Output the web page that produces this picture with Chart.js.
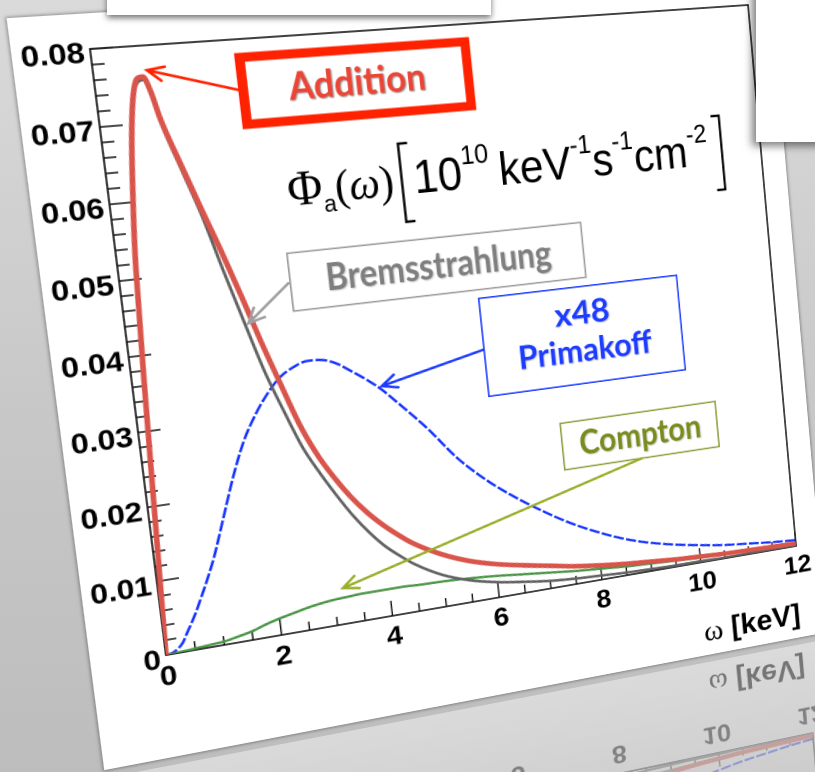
<!DOCTYPE html>
<html>
<head>
<meta charset="utf-8">
<script src="https://cdn.jsdelivr.net/npm/chart.js@4.4.1/dist/chart.umd.min.js"></script>
<style>
  html, body { margin: 0; padding: 0; }
  body {
    width: 815px; height: 772px; overflow: hidden; position: relative;
    background: linear-gradient(to bottom, #dadada 0%, #c7c7c7 55%, #bdbdbd 100%);
  }
  #panel {
    position: absolute; left: 0; top: 0; width: 733px; height: 738px;
    background: #fff; transform-origin: 0 0;
    box-shadow: 0 0 3px 1px rgba(0, 0, 0, 0.35);
    -webkit-box-reflect: below 8px linear-gradient(to bottom, rgba(255,255,255,0) 55%, rgba(255,255,255,0.42));
  }
  #panel canvas { display: block; }
  .slip { position: absolute; background: #fff; z-index: 2; }
</style>
</head>
<body>
<div id="panel"><canvas id="fluxChart" width="733" height="738"></canvas></div>
<div class="slip" style="left:107px;top:-12px;width:384px;height:27px;box-shadow:0 3px 6px rgba(0,0,0,0.55);"></div>
<div class="slip" style="left:756px;top:-12px;width:80px;height:154px;box-shadow:-4px 4px 8px rgba(0,0,0,0.5);"></div>
<script>
// photon energy grid [keV]
const energyKeV = [0, 0.1, 0.2, 0.3, 0.4, 0.5, 0.6, 0.7, 0.8, 0.9,
  1.0, 1.25, 1.5, 1.75, 2.0, 2.25, 2.5, 2.75, 3.0, 3.25,
  3.5, 3.75, 4.0, 4.25, 4.5, 5.0, 5.5, 6.0, 6.5, 7.0,
  7.5, 8.0, 8.5, 9.0, 9.5, 10.0, 10.5, 11.0, 11.5, 12.0];

// fluxes [10^10 keV^-1 s^-1 cm^-2]
const additionFlux = [0, 0.018, 0.036, 0.0515, 0.061, 0.0685, 0.0735, 0.0758, 0.0760, 0.0740,
  0.0705, 0.0643, 0.0583, 0.0525, 0.0463, 0.0398, 0.0338, 0.0280, 0.0236, 0.0202,
  0.0173, 0.0149, 0.0129, 0.0112, 0.0097, 0.0075, 0.0059, 0.0048, 0.0040, 0.0033,
  0.0026, 0.0021, 0.0017, 0.0014, 0.0011, 0.0009, 0.0007, 0.0006, 0.0005, 0.0004];

const bremsFlux = [0, 0.0175, 0.0352, 0.0508, 0.0605, 0.068, 0.0730, 0.0753, 0.0756, 0.0736,
  0.0700, 0.0636, 0.0573, 0.0498, 0.0427, 0.0358, 0.0302, 0.0250, 0.0212, 0.0178,
  0.0147, 0.0121, 0.0099, 0.0082, 0.0067, 0.0045, 0.0031, 0.0022, 0.0016, 0.0011,
  0.0008, 0.0006, 0.0004, 0.0003, 0.0002, 0.0002, 0.0001, 0.0001, 0.0001, 0.0001];

const comptonFlux = [0, 0.00002, 0.00005, 0.0001, 0.00014, 0.0002, 0.00025, 0.0003, 0.00035, 0.0004,
  0.00045, 0.0008, 0.0012, 0.0018, 0.0023, 0.0027, 0.0031, 0.0034, 0.0036, 0.0037,
  0.0038, 0.0038, 0.0038, 0.0038, 0.0037, 0.0036, 0.0034, 0.0031, 0.0027, 0.0023,
  0.0019, 0.0016, 0.0013, 0.0011, 0.0009, 0.0007, 0.0006, 0.0005, 0.0004, 0.0003];

const primakoffX48 = [0, 0.0001, 0.0005, 0.0012, 0.0025, 0.0038, 0.0052, 0.0068, 0.0084, 0.0101,
  0.0119, 0.0172, 0.0225, 0.0270, 0.0303, 0.0329, 0.0349, 0.0360, 0.0366, 0.0365,
  0.0358, 0.0345, 0.0331, 0.0315, 0.0295, 0.0253, 0.0205, 0.0168, 0.0138, 0.0112,
  0.0089, 0.0070, 0.0054, 0.0042, 0.0033, 0.0026, 0.0020, 0.0016, 0.0012, 0.0009];

const xRange = [0, 12];
const yRange = [0, 0.08];

// labelled boxes and their arrows, placed in data units
const notes = [
  { lines: ["Addition"], box: [2.36, 6.53, 0.0682, 0.0782], edge: "#ff2200", edgeWidth: 9,
    ink: "#ec4535", size: 38, fit: 130, rows: [0.5],
    arrow: [2.36, 0.0734, 0.88, 0.0768], arrowInk: "#ff2200" },
  { lines: ["Bremsstrahlung"], box: [2.85, 8.29, 0.0434, 0.0514], edge: "#9a9a9a", edgeWidth: 1.6,
    ink: "#7f7f7f", size: 38, fit: 222, rows: [0.5],
    arrow: [2.83, 0.0473, 2.07, 0.0426], arrowInk: "#a0a0a0" },
  { lines: ["x48", "Primakoff"], box: [6.19, 10.07, 0.0284, 0.0424], edge: "#1c3cff", edgeWidth: 1.6,
    ink: "#1c3cff", size: 34, fit: 139, rows: [0.28, 0.66],
    arrow: [6.19, 0.0351, 4.27, 0.0319], arrowInk: "#1c3cff" },
  { lines: ["Compton"], box: [7.48, 10.61, 0.0165, 0.0234], edge: "#8c9c38", edgeWidth: 1.6,
    ink: "#7a8c1e", size: 36, fit: 130, rows: [0.5],
    arrow: [9.02, 0.0166, 3.17, 0.0050], arrowInk: "#9aae2c" }
];

function points(values) {
  return energyKeV.map((x, i) => ({ x, y: values[i] }));
}

function drawArrow(ctx, x1, y1, x2, y2, color, width) {
  const ang = Math.atan2(y2 - y1, x2 - x1);
  const head = 16;
  ctx.save();
  ctx.strokeStyle = color;
  ctx.lineWidth = width;
  ctx.lineCap = "round";
  ctx.beginPath();
  ctx.moveTo(x1, y1);
  ctx.lineTo(x2, y2);
  ctx.moveTo(x2 - head * Math.cos(ang - 0.45), y2 - head * Math.sin(ang - 0.45));
  ctx.lineTo(x2, y2);
  ctx.lineTo(x2 - head * Math.cos(ang + 0.45), y2 - head * Math.sin(ang + 0.45));
  ctx.stroke();
  ctx.restore();
}

function fitText(ctx, text, cx, cy, maxW) {
  const w = ctx.measureText(text).width;
  const s = Math.min(1, maxW / w);
  ctx.save();
  ctx.translate(cx, cy);
  ctx.scale(s, 1);
  ctx.fillText(text, 0, 0);
  ctx.restore();
}

// Phi_a(omega)[10^10 keV^-1 s^-1 cm^-2] laid out piece by piece
function drawFormula(ctx, x0, y0, targetW) {
  const big = "48px 'Liberation Sans', Arial, sans-serif";
  const sup = "28px 'Liberation Sans', Arial, sans-serif";
  const parts = [
    { t: "\u03A6", f: "50px 'Liberation Serif', 'Times New Roman', serif", dy: 0 },
    { t: "a", f: "24px 'Liberation Sans', Arial, sans-serif", dy: 10 },
    { t: "(", f: "46px 'Liberation Serif', serif", dy: 0 },
    { t: "\u03C9", f: "italic 46px 'Liberation Serif', serif", dy: 0 },
    { t: ")", f: "46px 'Liberation Serif', serif", dy: 0 },
    { gap: 6 }, { bracket: "[" },
    { t: "10", f: big, dy: 0 }, { t: "10", f: sup, dy: -25 }, { gap: 10 },
    { t: "keV", f: big, dy: 0 }, { t: "-1", f: sup, dy: -25 },
    { t: "s", f: big, dy: 0 }, { t: "-1", f: sup, dy: -25 },
    { t: "cm", f: big, dy: 0 }, { t: "-2", f: sup, dy: -25 },
    { gap: 4 }, { bracket: "]" }
  ];
  let total = 0;
  parts.forEach((p) => {
    if (p.gap) { p.w = p.gap; }
    else if (p.bracket) { p.w = 16; }
    else { ctx.font = p.f; p.w = ctx.measureText(p.t).width; }
    total += p.w;
  });
  const s = targetW / total;
  ctx.save();
  ctx.translate(x0, y0);
  ctx.scale(s, 1);
  ctx.fillStyle = "#000";
  ctx.strokeStyle = "#000";
  ctx.textAlign = "left";
  ctx.textBaseline = "alphabetic";
  let x = 0;
  parts.forEach((p) => {
    if (p.bracket) {
      ctx.lineWidth = 2.6;
      ctx.beginPath();
      if (p.bracket === "[") {
        ctx.moveTo(x + 13, -52); ctx.lineTo(x + 3, -52); ctx.lineTo(x + 3, 28); ctx.lineTo(x + 13, 28);
      } else {
        ctx.moveTo(x + 3, -52); ctx.lineTo(x + 13, -52); ctx.lineTo(x + 13, 28); ctx.lineTo(x + 3, 28);
      }
      ctx.stroke();
    } else if (p.t) {
      ctx.font = p.f;
      ctx.fillText(p.t, x, p.dy);
    }
    x += p.w;
  });
  ctx.restore();
}

const frameAndTicks = {
  id: "frameAndTicks",
  beforeDatasetsDraw(chart) {
    const { ctx, chartArea: a, scales } = chart;
    const xs = scales.x, ys = scales.y;
    ctx.save();
    ctx.strokeStyle = "#111";
    ctx.lineWidth = 1.6;
    ctx.strokeRect(a.left, a.top, a.right - a.left, a.bottom - a.top);
    ctx.lineWidth = 1.4;
    ctx.beginPath();
    for (let i = 0; i <= 40; i++) {
      const v = i * 0.002;
      const y = ys.getPixelForValue(v);
      ctx.moveTo(a.left, y);
      ctx.lineTo(a.left + (i % 5 === 0 ? 20 : 11), y);
    }
    for (let i = 0; i <= 24; i++) {
      const v = i * 0.5;
      const x = xs.getPixelForValue(v);
      ctx.moveTo(x, a.bottom);
      ctx.lineTo(x, a.bottom - (i % 4 === 0 ? 16 : 9));
    }
    ctx.stroke();
    ctx.restore();
  },
  afterDatasetsDraw(chart) {
    const { ctx, chartArea: a, scales } = chart;
    const xs = scales.x, ys = scales.y;
    const px = (v) => xs.getPixelForValue(v);
    const py = (v) => ys.getPixelForValue(v);

    drawFormula(ctx, px(3.0), py(0.0576), 440);

    notes.forEach((n) => {
      const [x0, x1, y0, y1] = n.box;
      const L = px(x0), R = px(x1), T = py(y1), B = py(y0);
      ctx.save();
      ctx.strokeStyle = n.edge;
      ctx.lineWidth = n.edgeWidth;
      const inset = n.edgeWidth / 2;
      ctx.strokeRect(L + inset, T + inset, R - L - 2 * inset, B - T - 2 * inset);
      ctx.fillStyle = n.ink;
      ctx.font = "bold " + n.size + "px Lato, 'Open Sans', sans-serif";
      ctx.textAlign = "center";
      ctx.textBaseline = "middle";
      ctx.shadowColor = n.edgeWidth > 4 ? "rgba(0,0,0,0.45)" : "rgba(0,0,0,0.22)";
      ctx.shadowOffsetX = 2;
      ctx.shadowOffsetY = 2;
      ctx.shadowBlur = 3;
      n.lines.forEach((line, i) => {
        fitText(ctx, line, (L + R) / 2, T + (B - T) * n.rows[i], n.fit);
      });
      ctx.restore();
      const [ax, ay, bx, by] = n.arrow;
      drawArrow(ctx, px(ax), py(ay), px(bx), py(by), n.arrowInk, 2.6);
    });

    // axis title, right aligned under the x axis
    ctx.save();
    ctx.fillStyle = "#000";
    ctx.textBaseline = "alphabetic";
    ctx.textAlign = "right";
    ctx.font = "bold 32px 'Liberation Sans', Arial, sans-serif";
    const right = a.right - 2;
    const base = a.bottom + 88;
    ctx.fillText("[keV]", right, base);
    const wk = ctx.measureText(" [keV]").width;
    ctx.font = "32px 'Liberation Serif', 'Times New Roman', serif";
    ctx.fillText("\u03C9", right - wk, base);
    ctx.restore();
  }
};

const tickFont = { family: "'Liberation Sans', Arial, sans-serif", size: 28, weight: "bold" };

const chart = new Chart(document.getElementById("fluxChart"), {
  type: "line",
  data: {
    datasets: [
      { label: "Addition", data: points(additionFlux), borderColor: "#d9554b", borderWidth: 5 },
      { label: "Bremsstrahlung", data: points(bremsFlux), borderColor: "#626262", borderWidth: 2.8 },
      { label: "Compton", data: points(comptonFlux), borderColor: "#4a9546", borderWidth: 2.5 },
      { label: "Primakoff x48", data: points(primakoffX48), borderColor: "#1633ff", borderWidth: 2.5,
        borderDash: [11, 2.5] }
    ]
  },
  options: {
    responsive: false,
    animation: false,
    devicePixelRatio: 2,
    layout: { padding: { top: 34, right: 26, left: 0, bottom: 0 } },
    elements: {
      point: { radius: 0 },
      line: { cubicInterpolationMode: "monotone", fill: false }
    },
    plugins: { legend: { display: false }, tooltip: { enabled: false } },
    scales: {
      x: {
        type: "linear", min: xRange[0], max: xRange[1],
        afterFit(scale) { scale.height = 104; },
        grid: { display: false, drawTicks: false },
        border: { display: false },
        ticks: { stepSize: 2, autoSkip: false, maxRotation: 0, padding: 6, color: "#000", font: tickFont }
      },
      y: {
        type: "linear", min: yRange[0], max: yRange[1],
        afterFit(scale) { scale.width = 67; },
        grid: { display: false, drawTicks: false },
        border: { display: false },
        ticks: {
          stepSize: 0.01, autoSkip: false, padding: 5, labelOffset: 5, color: "#000", font: tickFont,
          callback: (v) => (Math.abs(v) < 1e-9 ? "0" : v.toFixed(2))
        }
      }
    }
  },
  plugins: [frameAndTicks]
});

// tilt the whole sheet: map the plot frame onto the frame seen in perspective
function solveHomography(src, dst) {
  const A = [], b = [];
  for (let i = 0; i < 4; i++) {
    const [x, y] = src[i], [X, Y] = dst[i];
    A.push([x, y, 1, 0, 0, 0, -x * X, -y * X]); b.push(X);
    A.push([0, 0, 0, x, y, 1, -x * Y, -y * Y]); b.push(Y);
  }
  const n = 8;
  for (let c = 0; c < n; c++) {
    let p = c;
    for (let r = c + 1; r < n; r++) if (Math.abs(A[r][c]) > Math.abs(A[p][c])) p = r;
    [A[c], A[p]] = [A[p], A[c]];
    [b[c], b[p]] = [b[p], b[c]];
    for (let r = 0; r < n; r++) {
      if (r === c) continue;
      const f = A[r][c] / A[c][c];
      for (let k = c; k < n; k++) A[r][k] -= f * A[c][k];
      b[r] -= f * b[c];
    }
  }
  return b.map((v, i) => v / A[i][i]);
}

const area = chart.chartArea;
const src = [[area.left, area.top], [area.right, area.top], [area.right, area.bottom], [area.left, area.bottom]];
const dst = [[90, 49], [748, 5], [796, 546], [166, 655]];
const [a, b, c, d, e, f, g, h] = solveHomography(src, dst);
document.getElementById("panel").style.transform =
  `matrix3d(${a},${d},0,${g},${b},${e},0,${h},0,0,1,0,${c},${f},0,1)`;
</script>
</body>
</html>
